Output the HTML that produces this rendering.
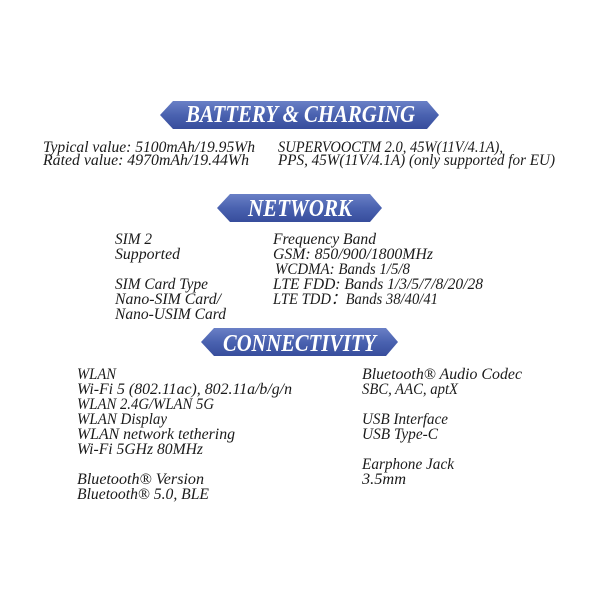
<!DOCTYPE html>
<html><head><meta charset="utf-8"><style>
html,body{margin:0;padding:0;background:#fff;width:600px;height:600px;overflow:hidden}
svg{display:block}
.t{font-family:"Liberation Serif",serif;font-style:italic;font-size:16px;fill:#1a1a1a}
.h{font-family:"Liberation Serif",serif;font-style:italic;font-weight:bold;font-size:24px;fill:#fff}
</style></head><body>
<svg width="600" height="600" viewBox="0 0 600 600">
<defs><linearGradient id="g" x1="0" y1="0" x2="0" y2="1">
<stop offset="0" stop-color="#6a80c6"/><stop offset="0.5" stop-color="#4a62b0"/><stop offset="1" stop-color="#374d9c"/></linearGradient></defs>
<polygon points="173,101 427,101 439,115 427,129 173,129 160,115" fill="url(#g)"/>
<polygon points="230,194 370,194 382,208 370,222 230,222 217,208" fill="url(#g)"/>
<polygon points="214,328 386,328 398,342 386,356 214,356 201,342" fill="url(#g)"/>
<text class="h" x="186" y="122" textLength="229" lengthAdjust="spacingAndGlyphs">BATTERY &amp; CHARGING</text>
<text class="h" x="248" y="216" textLength="104" lengthAdjust="spacingAndGlyphs">NETWORK</text>
<text class="h" x="223" y="351" textLength="153" lengthAdjust="spacingAndGlyphs">CONNECTIVITY</text>

<text class="t" x="43" y="152" textLength="212" lengthAdjust="spacingAndGlyphs">Typical value: 5100mAh/19.95Wh</text>
<text class="t" x="43" y="165" textLength="206" lengthAdjust="spacingAndGlyphs">Rated value: 4970mAh/19.44Wh</text>
<text class="t" x="278" y="152" textLength="225" lengthAdjust="spacingAndGlyphs">SUPERVOOCTM 2.0, 45W(11V/4.1A),</text>
<text class="t" x="278" y="165" textLength="277" lengthAdjust="spacingAndGlyphs">PPS, 45W(11V/4.1A) (only supported for EU)</text>

<text class="t" x="115" y="244" textLength="37" lengthAdjust="spacingAndGlyphs">SIM 2</text>
<text class="t" x="115" y="259" textLength="65" lengthAdjust="spacingAndGlyphs">Supported</text>
<text class="t" x="115" y="289" textLength="93" lengthAdjust="spacingAndGlyphs">SIM Card Type</text>
<text class="t" x="115" y="304" textLength="106" lengthAdjust="spacingAndGlyphs">Nano-SIM Card/</text>
<text class="t" x="115" y="319" textLength="111" lengthAdjust="spacingAndGlyphs">Nano-USIM Card</text>
<text class="t" x="273" y="244" textLength="103" lengthAdjust="spacingAndGlyphs">Frequency Band</text>
<text class="t" x="273" y="259" textLength="160" lengthAdjust="spacingAndGlyphs">GSM: 850/900/1800MHz</text>
<text class="t" x="275" y="274" textLength="135" lengthAdjust="spacingAndGlyphs">WCDMA: Bands 1/5/8</text>
<text class="t" x="273" y="289" textLength="210" lengthAdjust="spacingAndGlyphs">LTE FDD: Bands 1/3/5/7/8/20/28</text>
<text class="t" x="273" y="304" textLength="165" lengthAdjust="spacingAndGlyphs">LTE TDD：Bands 38/40/41</text>

<text class="t" x="77" y="379" textLength="39" lengthAdjust="spacingAndGlyphs">WLAN</text>
<text class="t" x="77" y="394" textLength="215" lengthAdjust="spacingAndGlyphs">Wi-Fi 5 (802.11ac), 802.11a/b/g/n</text>
<text class="t" x="77" y="409" textLength="137" lengthAdjust="spacingAndGlyphs">WLAN 2.4G/WLAN 5G</text>
<text class="t" x="77" y="424" textLength="90" lengthAdjust="spacingAndGlyphs">WLAN Display</text>
<text class="t" x="77" y="439" textLength="158" lengthAdjust="spacingAndGlyphs">WLAN network tethering</text>
<text class="t" x="77" y="454" textLength="126" lengthAdjust="spacingAndGlyphs">Wi-Fi 5GHz 80MHz</text>
<text class="t" x="77" y="484" textLength="127" lengthAdjust="spacingAndGlyphs">Bluetooth® Version</text>
<text class="t" x="77" y="499" textLength="132" lengthAdjust="spacingAndGlyphs">Bluetooth® 5.0, BLE</text>
<text class="t" x="362" y="379" textLength="160" lengthAdjust="spacingAndGlyphs">Bluetooth® Audio Codec</text>
<text class="t" x="362" y="394" textLength="96" lengthAdjust="spacingAndGlyphs">SBC, AAC, aptX</text>
<text class="t" x="362" y="424" textLength="86" lengthAdjust="spacingAndGlyphs">USB Interface</text>
<text class="t" x="362" y="439" textLength="76" lengthAdjust="spacingAndGlyphs">USB Type-C</text>
<text class="t" x="362" y="469" textLength="92" lengthAdjust="spacingAndGlyphs">Earphone Jack</text>
<text class="t" x="362" y="484" textLength="44" lengthAdjust="spacingAndGlyphs">3.5mm</text>
</svg>
</body></html>
